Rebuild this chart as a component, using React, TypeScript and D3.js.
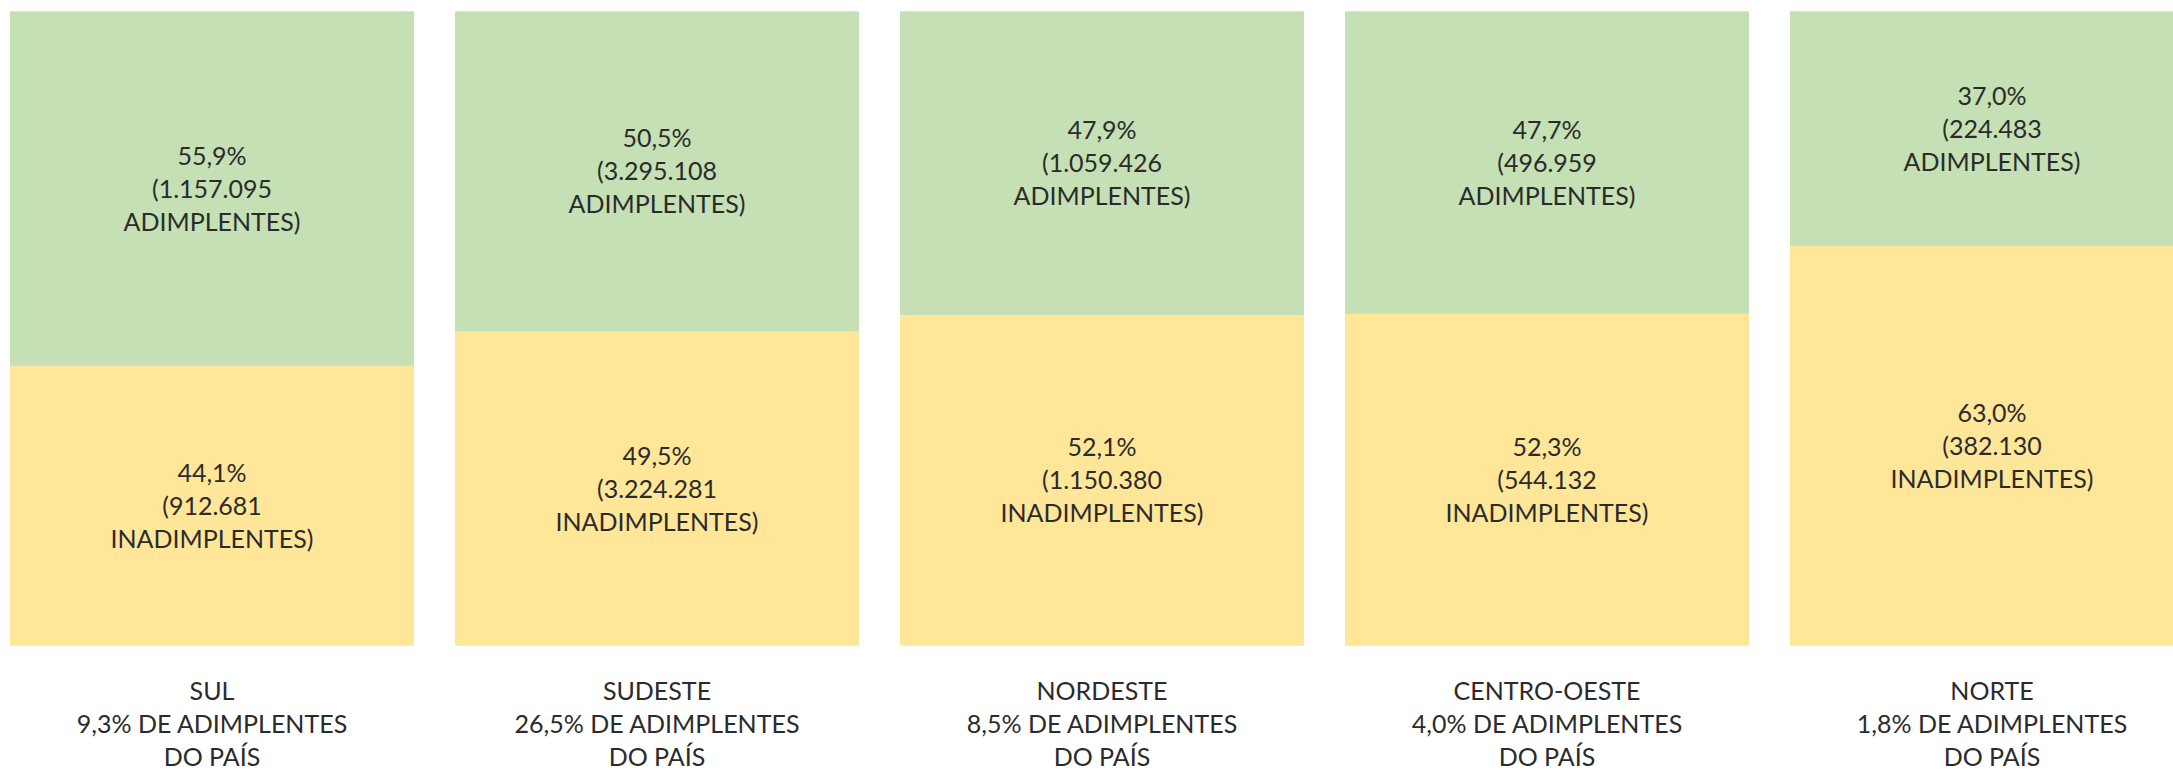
import * as React from 'react'
import {scaleBand, scaleLinear} from 'd3'

// regiões
const regions = ['SUL', 'SUDESTE', 'NORDESTE', 'CENTRO-OESTE', 'NORTE']
const adimPct = [55.9, 50.5, 47.9, 47.7, 37.0]
const inadimPct = [44.1, 49.5, 52.1, 52.3, 63.0]
const adimCount = ['1.157.095', '3.295.108', '1.059.426', '496.959', '224.483']
const inadimCount = ['912.681', '3.224.281', '1.150.380', '544.132', '382.130']
const shareOfCountry = ['9,3%', '26,5%', '8,5%', '4,0%', '1,8%']

const W = 2173
const H = 772
const GREEN = '#c5e0b4'
const YELLOW = '#ffe699'
const TEXT = '#2b2b2b'
const FONT = 'Lato, "Open Sans", sans-serif'
const FS = 25
const LH = 33

const fmtPct = (v: number) => v.toFixed(1).replace('.', ',') + '%'

export default function App() {
  const x = scaleBand<string>()
    .domain(regions)
    .range([10, 2194])
    .paddingInner(41 / 445)
    .paddingOuter(0)
  const y = scaleLinear().domain([0, 100]).range([11.3, 645.7])

  const block = (cx: number, cy: number, lines: string[]) => (
    <text x={cx} y={cy - LH + 0.36 * FS} textAnchor="middle" fontFamily={FONT} fontSize={FS} fill={TEXT}>
      {lines.map((l, i) => (
        <tspan key={i} x={cx} dy={i === 0 ? 0 : LH}>{l}</tspan>
      ))}
    </text>
  )

  return (
    <svg width={W} height={H} style={{position: 'absolute', left: 0, top: 0}}>
      <rect width={W} height={H} fill="#fff" />
      {regions.map((r, i) => {
        const x0 = x(r) as number
        const bw = x.bandwidth()
        const cx = x0 + bw / 2
        const ySplit = y(adimPct[i])
        return (
          <g key={r}>
            <rect x={x0} y={y(0)} width={bw} height={ySplit - y(0)} fill={GREEN} />
            <rect x={x0} y={ySplit} width={bw} height={y(100) - ySplit} fill={YELLOW} />
            {block(cx, (y(0) + ySplit) / 2, [fmtPct(adimPct[i]), `(${adimCount[i]}`, 'ADIMPLENTES)'])}
            {block(cx, (ySplit + y(100)) / 2, [fmtPct(inadimPct[i]), `(${inadimCount[i]}`, 'INADIMPLENTES)'])}
            <text x={cx} y={700} textAnchor="middle" fontFamily={FONT} fontSize={FS} fill={TEXT}>
              <tspan x={cx} dy={0}>{r}</tspan>
              <tspan x={cx} dy={LH}>{`${shareOfCountry[i]} DE ADIMPLENTES`}</tspan>
              <tspan x={cx} dy={LH}>DO PAÍS</tspan>
            </text>
          </g>
        )
      })}
    </svg>
  )
}
